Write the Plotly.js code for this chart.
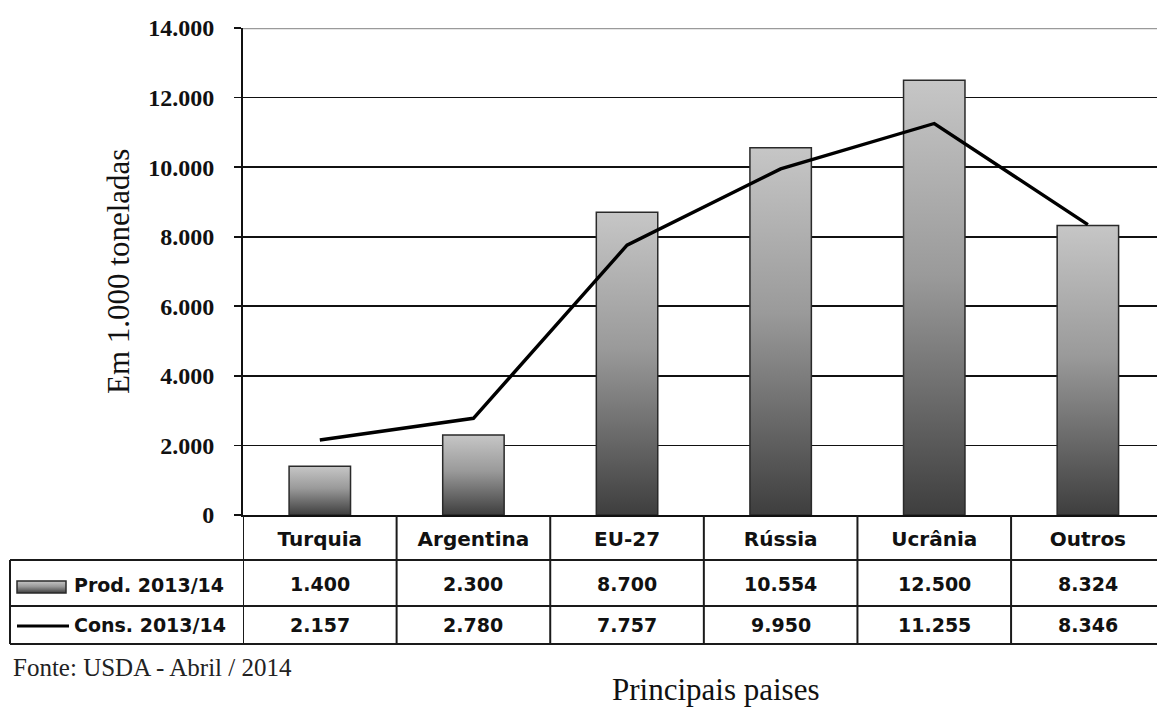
<!DOCTYPE html>
<html>
<head>
<meta charset="utf-8">
<script src="https://cdn.plot.ly/plotly-3.0.1.min.js"></script>
<style>
  html, body { margin: 0; padding: 0; background: #fff; }
  #chart { width: 1157px; height: 707px; }
</style>
</head>
<body>
<div id="chart"></div>
<script>
// Production and consumption by country, 2013/14 (1.000 t)
const paises = ['Turquia', 'Argentina', 'EU-27', 'Rússia', 'Ucrânia', 'Outros'];
const producao = [1400, 2300, 8700, 10554, 12500, 8324];
const consumo = [2157, 2780, 7757, 9950, 11255, 8346];
const serieProd = 'Prod. 2013/14';
const serieCons = 'Cons. 2013/14';
const yTicks = [0, 2000, 4000, 6000, 8000, 10000, 12000, 14000];
const tituloY = 'Em 1.000 toneladas';
const tituloX = 'Principais paises';
const fonte = 'Fonte: USDA - Abril / 2014';

// Page geometry (pixels) and helpers to convert to paper coordinates
const W = 1157, H = 707;
const M = { l: 243, r: 0, t: 28, b: 192 };
const plotW = W - M.l - M.r, plotH = H - M.t - M.b;
const px = x => (x - M.l) / plotW;
const py = y => (H - M.b - y) / plotH;

// Thousands separated with '.'
const fmt = v => String(v).replace(/\B(?=(\d{3})+(?!\d))/g, '.');

const tableFont = { family: 'DejaVu Sans', size: 19, weight: 700, color: '#111' };
const headFont = { family: 'DejaVu Sans', size: 20, weight: 700, color: '#111' };
const serif = 'Liberation Serif';
const ink = '#111';

// Table rows (pixel centres) and borders
const rowProd = 584, rowCons = 625;
const tblTop = 515, tblRow1 = 560, tblRow2 = 606, tblBottom = 644, tblLeft = 10;

const traces = [
  {
    type: 'bar',
    name: serieProd,
    x: paises,
    y: producao,
    width: 0.4,
    marker: { color: '#8a8a8a', line: { color: '#2a2a2a', width: 1.5 } },
    hoverinfo: 'skip'
  },
  {
    type: 'scatter',
    mode: 'lines',
    name: serieCons,
    x: paises,
    y: consumo,
    line: { color: '#000', width: 3.4 },
    hoverinfo: 'skip'
  }
];

const shapes = [];
const lineStyle = { color: '#1a1a1a', width: 2 };

// vertical column borders below the axis
for (let k = 0; k <= paises.length; k++) {
  shapes.push({
    type: 'line', xref: 'x', yref: 'paper',
    x0: k - 0.5, x1: k - 0.5, y0: py(tblTop), y1: py(tblBottom),
    line: lineStyle
  });
}
// horizontal row borders
[tblRow1, tblRow2, tblBottom].forEach(yy => {
  shapes.push({
    type: 'line', xref: 'paper', yref: 'paper',
    x0: px(tblLeft), x1: 1, y0: py(yy), y1: py(yy),
    line: lineStyle
  });
});
// left edge of the legend column
shapes.push({
  type: 'line', xref: 'paper', yref: 'paper',
  x0: px(tblLeft), x1: px(tblLeft), y0: py(tblRow1), y1: py(tblBottom),
  line: lineStyle
});
// top gridline drawn lighter
shapes.push({
  type: 'line', xref: 'paper', yref: 'y',
  x0: 0, x1: 1, y0: 14000, y1: 14000,
  line: { color: '#9a9a9a', width: 2.5 }
});
// legend keys inside the table
const keyBarIndex = shapes.length;
shapes.push({
  type: 'rect', xref: 'paper', yref: 'paper',
  x0: px(17), x1: px(66), y0: py(593), y1: py(581),
  fillcolor: '#8a8a8a', line: { color: '#2a2a2a', width: 1.5 }
});
shapes.push({
  type: 'line', xref: 'paper', yref: 'paper',
  x0: px(17), x1: px(69), y0: py(rowCons + 1), y1: py(rowCons + 1),
  line: { color: '#000', width: 3 }
});

const annotations = [];
paises.forEach((p, i) => {
  annotations.push({
    xref: 'x', yref: 'paper', x: i, y: py(rowProd),
    text: fmt(producao[i]), showarrow: false, font: tableFont,
    xanchor: 'center', yanchor: 'middle'
  });
  annotations.push({
    xref: 'x', yref: 'paper', x: i, y: py(rowCons),
    text: fmt(consumo[i]), showarrow: false, font: tableFont,
    xanchor: 'center', yanchor: 'middle'
  });
});
annotations.push({
  xref: 'paper', yref: 'paper', x: px(72), y: py(rowProd + 1),
  text: serieProd, showarrow: false, font: tableFont,
  xanchor: 'left', yanchor: 'middle'
});
annotations.push({
  xref: 'paper', yref: 'paper', x: px(72), y: py(rowCons),
  text: serieCons, showarrow: false, font: tableFont,
  xanchor: 'left', yanchor: 'middle'
});
annotations.push({
  xref: 'paper', yref: 'paper', x: px(118), y: py(272),
  text: tituloY, textangle: -90, showarrow: false,
  font: { family: serif, size: 31, color: ink },
  xanchor: 'center', yanchor: 'middle'
});
annotations.push({
  xref: 'paper', yref: 'paper', x: px(716), y: py(689),
  text: tituloX, showarrow: false,
  font: { family: serif, size: 31, color: ink },
  xanchor: 'center', yanchor: 'middle'
});
annotations.push({
  xref: 'paper', yref: 'paper', x: px(11), y: py(667),
  text: fonte, showarrow: false,
  font: { family: serif, size: 25, color: '#222' },
  xanchor: 'left', yanchor: 'middle'
});

const layout = {
  width: W, height: H,
  margin: M,
  paper_bgcolor: '#fff', plot_bgcolor: '#fff',
  separators: ',.',
  showlegend: false,
  xaxis: {
    type: 'category',
    range: [-0.5, paises.length - 0.55],
    showline: true, linecolor: '#111', linewidth: 2,
    showgrid: false, zeroline: false,
    ticks: '', ticklabelstandoff: 5,
    tickfont: headFont,
    fixedrange: true
  },
  yaxis: {
    range: [0, 14000],
    tickvals: yTicks, tickformat: ',d',
    showline: true, linecolor: '#111', linewidth: 2,
    showgrid: true, gridcolor: '#111', gridwidth: 1.8,
    zeroline: false,
    ticks: 'outside', ticklen: 7, tickwidth: 1.8, tickcolor: '#111',
    ticklabelstandoff: 15,
    tickfont: { family: serif, size: 24, weight: 700, color: ink },
    fixedrange: true
  },
  shapes: shapes,
  annotations: annotations
};

Plotly.newPlot('chart', traces, layout, { staticPlot: true, displayModeBar: false }).then(gd => {
  // vertical light-to-dark fill for the bars and the legend key
  const NS = 'http://www.w3.org/2000/svg';
  const svg = gd.querySelector('.main-svg');
  let defs = svg.querySelector('defs');
  if (!defs) { defs = document.createElementNS(NS, 'defs'); svg.insertBefore(defs, svg.firstChild); }
  const grad = document.createElementNS(NS, 'linearGradient');
  grad.setAttribute('id', 'barShade');
  grad.setAttribute('x1', '0'); grad.setAttribute('y1', '0');
  grad.setAttribute('x2', '0'); grad.setAttribute('y2', '1');
  [['0%', '#c6c6c6'], ['45%', '#9a9a9a'], ['100%', '#3e3e3e']].forEach(([o, c]) => {
    const s = document.createElementNS(NS, 'stop');
    s.setAttribute('offset', o); s.setAttribute('stop-color', c);
    grad.appendChild(s);
  });
  defs.appendChild(grad);
  gd.querySelectorAll('.barlayer .point path').forEach(p => { p.style.fill = 'url(#barShade)'; });
  gd.querySelectorAll('.shapelayer path[data-index="' + keyBarIndex + '"]').forEach(p => {
    p.style.fill = 'url(#barShade)'; p.style.fillOpacity = 1;
  });
});
</script>
</body>
</html>
